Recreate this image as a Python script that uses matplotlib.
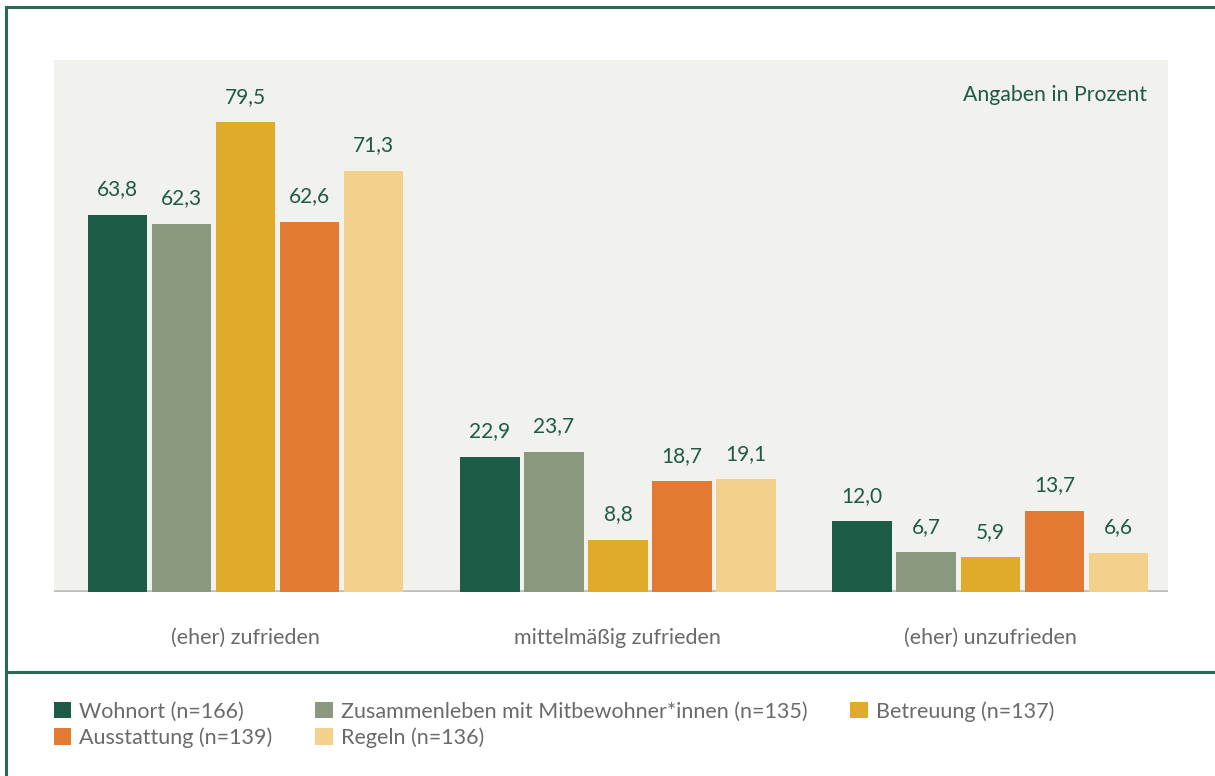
import matplotlib
matplotlib.use('Agg')
import matplotlib.pyplot as plt
from matplotlib.lines import Line2D
import numpy as np

plt.rcParams['font.family'] = ['Lato', 'DejaVu Sans']

CATS = ['(eher) zufrieden', 'mittelmäßig zufrieden', '(eher) unzufrieden']
SERIES = ['Wohnort (n=166)', 'Zusammenleben mit Mitbewohner*innen (n=135)',
          'Betreuung (n=137)', 'Ausstattung (n=139)', 'Regeln (n=136)']
VALUES = [
    [63.8, 22.9, 12.0],
    [62.3, 23.7, 6.7],
    [79.5, 8.8, 5.9],
    [62.6, 18.7, 13.7],
    [71.3, 19.1, 6.6],
]
COLORS = ['#1c5c46', '#8a987e', '#e0aa2a', '#e37a33', '#f3d18c']

GREEN = '#1e5a45'
FRAME = '#2a6b52'
GREY_TXT = '#6a6a6a'

fig = plt.figure(figsize=(12.15, 7.76), dpi=100)
ax = fig.add_axes([54/1215, 1 - 592/776, 1114/1215, 532/776])
ax.set_facecolor('#f1f1ed')

x = np.arange(len(CATS))
step, w = 0.172, 0.16
bars = []
for i, (name, vals, c) in enumerate(zip(SERIES, VALUES, COLORS)):
    b = ax.bar(x + (i - 2) * step, vals, w, color=c, label=name, zorder=3)
    bars.append(b)
    for rect, v in zip(b, vals):
        ax.annotate(f'{v:.1f}'.replace('.', ','),
                    (rect.get_x() + rect.get_width() / 2, v),
                    xytext=(0, 14), textcoords='offset points',
                    ha='center', va='baseline', fontsize=15, color=GREEN)

ax.axhline(0, color='#bdbdbd', lw=2.6, zorder=2)
ax.set_xlim(-0.514, 2.477)
ax.set_ylim(0, 90)
for s in ax.spines.values():
    s.set_visible(False)
ax.set_yticks([])
ax.set_xticks(x)
ax.set_xticklabels(CATS, fontsize=15.5, color=GREY_TXT)
ax.tick_params(axis='x', length=0, pad=26)

ax.text(0.981, 0.923, 'Angaben in Prozent', transform=ax.transAxes,
        ha='right', va='baseline', fontsize=15.3, color=GREEN)

# legend: column-wise order so rows read Wohnort/Zusammen/Betreuung, Ausstattung/Regeln
order = [0, 3, 1, 4, 2]
leg = fig.legend([bars[k] for k in order], [SERIES[k] for k in order],
                 loc='upper left', bbox_to_anchor=(54/1215, 1 - 701/776),
                 ncol=3, frameon=False, fontsize=15.5, borderpad=0,
                 borderaxespad=0, handlelength=0.8, handleheight=0.8,
                 handletextpad=0.37, columnspacing=2.0, labelspacing=0.27)
for t in leg.get_texts():
    t.set_color(GREY_TXT)

# frame lines
lw = 2.2
fig.add_artist(Line2D([6/1215, 6/1215], [0, 1 - 7/776], color=FRAME, lw=lw,
                      transform=fig.transFigure))
fig.add_artist(Line2D([6/1215, 1], [1 - 7/776, 1 - 7/776], color=FRAME, lw=lw,
                      transform=fig.transFigure))
fig.add_artist(Line2D([6/1215, 1], [1 - 672/776, 1 - 672/776], color=FRAME, lw=lw,
                      transform=fig.transFigure))

fig.savefig('out.png', dpi=100, facecolor='white')
